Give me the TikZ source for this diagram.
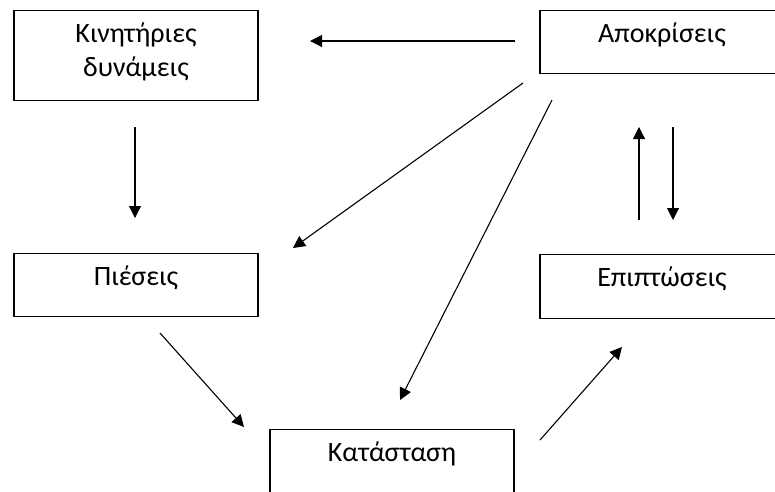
\documentclass[tikz,border=0pt]{standalone}
\usepackage{fontspec}
\setmainfont{Carlito}
\usetikzlibrary{arrows.meta}

\begin{document}
\begin{tikzpicture}[x=1pt, y=-1pt, every node/.style={draw, line width=1.3pt, minimum width=244pt, inner xsep=0pt, inner ysep=16pt, text height=16pt, anchor=north, align=center, font=\fontsize{28}{34}\selectfont}]
        \useasboundingbox (0,0) rectangle (775,491);
        \tikzset{flow/.style={-{Triangle[length=12pt,width=12pt]}, line width=1.1pt}}
        \node[text height=50pt, text depth=8pt] (kin) at (136, 10) {Κινητήριες\\δυνάμεις};
        \node[text depth=15pt] (apo) at (662, 10) {Αποκρίσεις};
        \node[text depth=15pt] (pie) at (136, 253) {Πιέσεις};
        \node[text depth=16pt] (epi) at (662, 254) {Επιπτώσεις};
        \node[text depth=15pt] (kat) at (392, 429) {Κατάσταση};
        % arrow ends
        \coordinate (apoL) at (515, 41);
        \coordinate (kinR) at (310, 41);
        \coordinate (kinB) at (135, 127);
        \coordinate (pieT) at (135, 218);
        \coordinate (apoA) at (523, 83);
        \coordinate (pieR) at (293, 248);
        \coordinate (apoB) at (552, 100);
        \coordinate (katT) at (400, 400);
        \coordinate (pieB) at (160, 333);
        \coordinate (katL) at (244, 427);
        \coordinate (katR) at (540, 440);
        \coordinate (epiL) at (622, 347);
        \coordinate (epiU) at (639, 220);
        \coordinate (apoU) at (639, 127);
        \coordinate (apoD) at (673, 127);
        \coordinate (epiD) at (673, 220);
        \draw[flow] (apoL) -- (kinR);
        \draw[flow] (kinB) -- (pieT);
        \draw[flow] (apoA) -- (pieR);
        \draw[flow] (apoB) -- (katT);
        \draw[flow] (pieB) -- (katL);
        \draw[flow] (katR) -- (epiL);
        \draw[flow] (epiU) -- (apoU);
        \draw[flow] (apoD) -- (epiD);
      \end{tikzpicture}
\end{document}
